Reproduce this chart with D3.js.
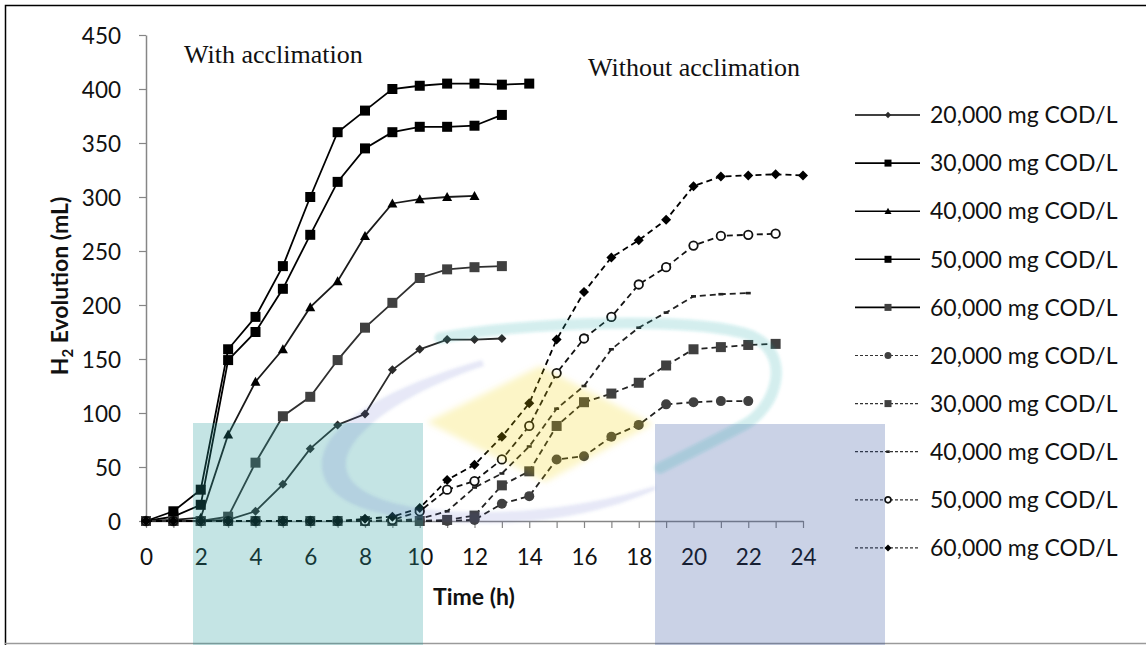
<!DOCTYPE html>
<html>
<head>
<meta charset="utf-8">
<script src="https://cdn.jsdelivr.net/npm/d3@7"></script>
<style>
  html, body { margin: 0; padding: 0; background: #fff; }
  svg { display: block; }
</style>
</head>
<body>
<svg id="chart" width="1146" height="645"></svg>
<script>
// Cumulative H2 evolution (mL); array index = time in hours
const withAccl20k = [0, 0, 0, 1, 9, 34, 67, 89, 99, 140, 159, 168, 168, 169];
const withAccl30k = [0, 4, 15, 149, 175, 215, 265, 314, 345, 360, 365, 365, 366, 376];
const withAccl40k = [0, 1, 3, 80, 129, 159, 198, 222, 264, 294, 298, 300, 301];
const withAccl50k = [0, 9, 29, 159, 189, 236, 300, 360, 380, 400, 403, 405, 405, 404, 405];
const withAccl60k = [0, 0, 0, 4, 54, 97, 115, 149, 179, 202, 225, 233, 235, 236];

const noAccl20k = [0, 0, 0, 0, 0, 0, 0, 0, 0, 0, 0, 0, 1, 16, 23, 57, 60, 78, 89, 108, 110, 111, 111];
const noAccl30k = [0, 0, 0, 0, 0, 0, 0, 0, 0, 0, 0, 1, 5, 33, 46, 88, 110, 118, 128, 144, 159, 161, 163, 164];
const noAccl40k = [0, 0, 0, 0, 0, 0, 0, 0, 0, 0, 2, 9, 31, 44, 69, 104, 125, 159, 179, 193, 208, 210, 211];
const noAccl50k = [0, 0, 0, 0, 0, 0, 0, 0, 0, 1, 9, 29, 37, 57, 88, 137, 169, 189, 219, 235, 255, 264, 265, 266];
const noAccl60k = [0, 0, 0, 0, 0, 0, 0, 0, 2, 4, 12, 38, 52, 78, 109, 168, 212, 244, 260, 279, 310, 319, 320, 321, 320];

const seriesLabels = [
  "20,000 mg COD/L", "30,000 mg COD/L", "40,000 mg COD/L", "50,000 mg COD/L", "60,000 mg COD/L",
  "20,000 mg COD/L", "30,000 mg COD/L", "40,000 mg COD/L", "50,000 mg COD/L", "60,000 mg COD/L"
];
const yTickValues = [0, 50, 100, 150, 200, 250, 300, 350, 400, 450];
const hourTicks = [0, 1, 2, 3, 4, 5, 6, 7, 8, 9, 10, 11, 12, 13, 14, 15, 16, 17, 18, 19, 20, 21, 22, 23, 24];
const hourLabels = [0, 2, 4, 6, 8, 10, 12, 14, 16, 18, 20, 22, 24];

// Drawing styles for each series, in legend order
const styles = [
  { values: withAccl20k, dashed: false, line: "#2b2b2b", marker: "diamond", fill: "#2b2b2b", size: 9 },
  { values: withAccl30k, dashed: false, line: "#000",    marker: "square",  fill: "#000",    size: 10 },
  { values: withAccl40k, dashed: false, line: "#1a1a1a", marker: "triangle",fill: "#000",    size: 10 },
  { values: withAccl50k, dashed: false, line: "#000",    marker: "square",  fill: "#000",    size: 10 },
  { values: withAccl60k, dashed: false, line: "#303030", marker: "square",  fill: "#404040", size: 10 },
  { values: noAccl20k,   dashed: true,  line: "#222",    marker: "circle",  fill: "#404040", size: 10 },
  { values: noAccl30k,   dashed: true,  line: "#222",    marker: "square",  fill: "#404040", size: 10 },
  { values: noAccl40k,   dashed: true,  line: "#222",    marker: "dash",    fill: "#222",    size: 5 },
  { values: noAccl50k,   dashed: true,  line: "#111",    marker: "open",    fill: "#fff",    size: 8.5 },
  { values: noAccl60k,   dashed: true,  line: "#000",    marker: "diamond", fill: "#000",    size: 10 }
];

const svg = d3.select("#chart");
const FONT = "Lato, 'Open Sans', sans-serif";

svg.append("rect").attr("width", 1146).attr("height", 645).attr("fill", "#fff");

// outer frame
svg.append("path").attr("d", "M5.5,645 V5.5 H1146").attr("fill", "none").attr("stroke", "#000").attr("stroke-width", 1.5);
svg.append("line").attr("x1", 5).attr("x2", 1146).attr("y1", 643.5).attr("y2", 643.5)
  .attr("stroke", "#9a9a9a").attr("stroke-width", 1.5);

const x = d3.scaleLinear().domain([0, 24]).range([146, 803]);
const y = d3.scaleLinear().domain([0, 450]).range([521, 35]);

// y axis
const yAxis = svg.append("g").attr("transform", "translate(146,0)")
  .call(d3.axisLeft(y).tickValues(yTickValues).tickSize(7).tickSizeOuter(0).tickPadding(18));
// x axis
const xAxis = svg.append("g").attr("transform", "translate(0,521)")
  .call(d3.axisBottom(x).tickValues(hourTicks).tickSize(7).tickSizeOuter(0)
    .tickFormat(d => hourLabels.includes(d) ? d : ""));
[yAxis, xAxis].forEach(g => {
  g.select(".domain").attr("stroke", "#868686").attr("stroke-width", 1.5);
  g.selectAll(".tick line").attr("stroke", "#868686").attr("stroke-width", 1.2);
  g.selectAll(".tick text").attr("fill", "#111").style("font-family", FONT).style("font-size", "22.5px");
});
yAxis.selectAll(".tick text").attr("dy", "0.36em");
xAxis.selectAll(".tick text").attr("y", 36).attr("dy", "0.36em");

// axis titles
const yTitle = svg.append("text")
  .attr("transform", "translate(68,286) rotate(-90)")
  .attr("text-anchor", "middle")
  .style("font-family", FONT).style("font-size", "23px").style("font-weight", "bold").attr("fill", "#111");
yTitle.append("tspan").text("H");
yTitle.append("tspan").text("2").style("font-size", "15px").attr("dy", "5");
yTitle.append("tspan").text(" Evolution (mL)").attr("dy", "-5");

svg.append("text").attr("x", 474).attr("y", 605).attr("text-anchor", "middle")
  .style("font-family", FONT).style("font-size", "23px").style("font-weight", "bold").attr("fill", "#111")
  .text("Time (h)");

// group annotations
const serif = "'Liberation Serif', 'Times New Roman', serif";
svg.append("text").attr("x", 184).attr("y", 63).style("font-family", serif).style("font-size", "26px")
  .attr("fill", "#111").text("With acclimation");
svg.append("text").attr("x", 588).attr("y", 76).style("font-family", serif).style("font-size", "26px")
  .attr("fill", "#111").text("Without acclimation");

// marker drawing
function drawMarker(sel, kind, size, fill, scale) {
  const s = size * scale;
  if (kind === "square") {
    sel.append("rect").attr("x", -s / 2).attr("y", -s / 2).attr("width", s).attr("height", s).attr("fill", fill);
  } else if (kind === "diamond") {
    const h = s / 2;
    sel.append("path").attr("d", `M0,${-h} L${h},0 L0,${h} L${-h},0 Z`).attr("fill", fill);
  } else if (kind === "triangle") {
    const h = s / 2;
    sel.append("path").attr("d", `M0,${-h} L${h},${h * 0.8} L${-h},${h * 0.8} Z`).attr("fill", fill);
  } else if (kind === "circle") {
    sel.append("circle").attr("r", s / 2).attr("fill", fill);
  } else if (kind === "open") {
    sel.append("circle").attr("r", s / 2).attr("fill", "#fff").attr("stroke", "#111").attr("stroke-width", 1.8);
  } else if (kind === "dash") {
    sel.append("rect").attr("x", -s / 2).attr("y", -1.3).attr("width", s).attr("height", 2.6).attr("fill", fill);
  }
}

const line = d3.line().x((d, i) => x(i)).y(d => y(d));
const plot = svg.append("g");

styles.forEach(st => {
  plot.append("path").datum(st.values)
    .attr("d", line).attr("fill", "none")
    .attr("stroke", st.line).attr("stroke-width", 1.8)
    .attr("stroke-dasharray", st.dashed ? "6,4" : null);
});
styles.forEach(st => {
  st.values.forEach((v, i) => {
    const g = plot.append("g").attr("transform", `translate(${x(i)},${y(v)})`);
    drawMarker(g, st.marker, st.size, st.fill, 1);
  });
});

// legend
const legend = svg.append("g");
seriesLabels.forEach((label, i) => {
  const st = styles[i];
  const ly = 115 + i * 48.1;
  const row = legend.append("g").attr("transform", `translate(0,${ly})`);
  row.append("line").attr("x1", 855).attr("x2", 920).attr("y1", 0).attr("y2", 0)
    .attr("stroke", st.dashed ? "#333" : "#000").attr("stroke-width", st.dashed ? 1.2 : 1.6)
    .attr("stroke-dasharray", st.dashed ? "3,2" : null);
  const m = row.append("g").attr("transform", "translate(888,0)");
  drawMarker(m, st.marker, st.size, st.fill, 0.7);
  row.append("text").attr("x", 930).attr("y", 0).attr("dy", "0.36em")
    .style("font-family", FONT).style("font-size", "23px").attr("fill", "#111").text(label);
});

// translucent emblem printed over the chart
const defs = svg.append("defs");
defs.append("filter").attr("id", "soft").append("feGaussianBlur").attr("stdDeviation", 3);
defs.append("filter").attr("id", "soft2").append("feGaussianBlur").attr("stdDeviation", 1.5);
const mark = svg.append("g").style("pointer-events", "none");
mark.append("rect").attr("x", 193).attr("y", 423).attr("width", 230).attr("height", 230)
  .attr("fill", "rgb(37,157,157)").attr("fill-opacity", 0.27);
mark.append("rect").attr("x", 655).attr("y", 424).attr("width", 230).attr("height", 230)
  .attr("fill", "rgb(44,76,156)").attr("fill-opacity", 0.25);
mark.append("path").attr("d", "M540,366 L653,424 L545,482 L427,422 Z")
  .attr("fill", "rgb(240,208,20)").attr("fill-opacity", 0.22).attr("filter", "url(#soft)");
mark.append("path")
  .attr("d", "M440,338 C520,322 700,316 752,336 C792,354 778,408 742,426 C712,442 684,456 660,468")
  .attr("fill", "none").attr("stroke", "rgb(37,170,170)").attr("stroke-opacity", 0.2)
  .attr("stroke-width", 11).attr("stroke-linecap", "round").attr("filter", "url(#soft2)");
mark.append("path")
  .attr("d", "M482,360 C392,385 318,425 322,468 C326,508 390,522 480,523 C560,524 620,506 655,490 " +
             "L655,486 C610,500 550,512 480,512 C400,512 348,495 346,466 C344,436 400,394 484,366 Z")
  .attr("fill", "rgb(80,90,200)").attr("fill-opacity", 0.14).attr("filter", "url(#soft2)");
</script>
</body>
</html>
